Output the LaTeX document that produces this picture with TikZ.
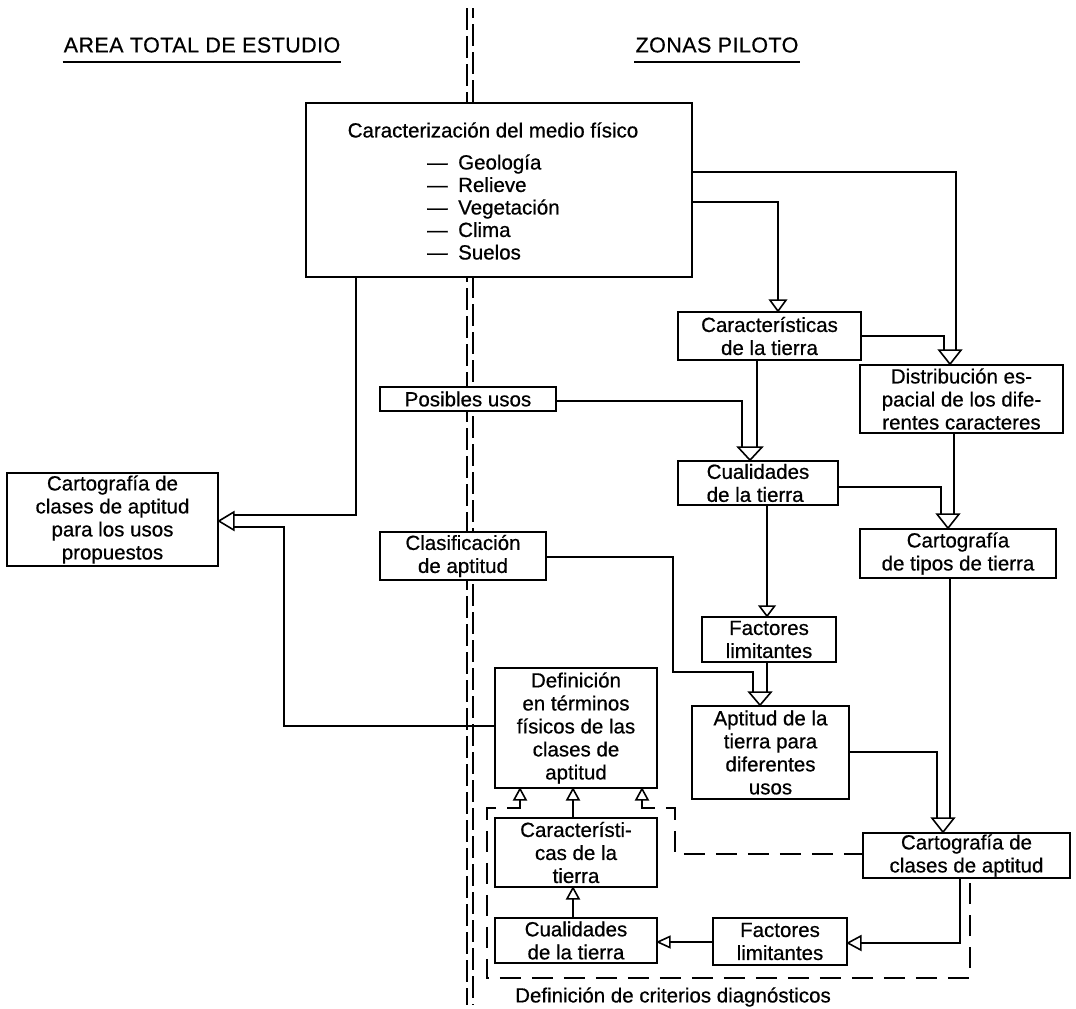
\documentclass[tikz,border=0pt]{standalone}
\usepackage{fontspec}
\setmainfont[FakeBold=0.6]{Liberation Sans}
\usetikzlibrary{calc}
\tikzset{
  box/.style={draw, line width=1.7pt, fill=white, inner sep=0pt, align=center,
    font=\fontsize{20.5}{23}\selectfont},
  conn/.style={line width=1.6pt},
  headst/.style={line width=1.6pt, fill=white, line join=miter},
  dsh/.style={line width=1.7pt, dash pattern=on 21pt off 11pt},
  sepline/.style={line width=2.3pt, dash pattern=on 22pt off 6pt},
  txt/.style={inner sep=0pt, font=\fontsize{20.5}{23}\selectfont},
  ttl/.style={inner sep=0pt, font=\fontsize{21.5}{24}\selectfont},
}
\newcommand\hdn[3]{\draw[headst] (#1) -- ++(-#2,-#3) -- ++(#2*2,0) -- cycle;}
\newcommand\hup[3]{\draw[headst] (#1) -- ++(-#2,#3) -- ++(#2*2,0) -- cycle;}
\newcommand\hlt[3]{\draw[headst] (#1) -- ++(#3,-#2) -- ++(0,#2*2) -- cycle;}
\begin{document}
\begin{tikzpicture}[x=1pt,y=-1pt]
\useasboundingbox (0,0) rectangle (1076,1009);
% separator between the two areas
\coordinate (sepTa) at (467,8);
\coordinate (sepBa) at (467,1005);
\coordinate (sepTb) at (473,8);
\coordinate (sepBb) at (473,1005);
\draw[sepline] (sepTa) -- (sepBa);
\draw[sepline, dash phase=12pt] (sepTb) -- (sepBb);

% titles
\node[ttl] (tA) at (202,45) {\addfontfeature{LetterSpace=2}AREA TOTAL DE ESTUDIO};
\node[ttl] (tZ) at (717,45) {\addfontfeature{LetterSpace=2}ZONAS PILOTO};
\draw[line width=1.7pt] ([xshift=-1pt]tA.west |- 0,62) -- ([xshift=1pt]tA.east |- 0,62);
\draw[line width=1.7pt] ([xshift=-1pt]tZ.west |- 0,62) -- ([xshift=1pt]tZ.east |- 0,62);

% boxes
\node[box, minimum width=386pt, minimum height=174pt] (b1) at (499,190) {};
\node[txt] (b1t) at (493,130) {Caracterización del medio físico};
\node[txt, anchor=west, align=left, font=\fontsize{20.5}{22.5}\selectfont] (b1l) at (427,207)
  {\makebox[31pt][l]{—}Geología\\\makebox[31pt][l]{—}Relieve\\\makebox[31pt][l]{—}Vegetación\\\makebox[31pt][l]{—}Clima\\\makebox[31pt][l]{—}Suelos};

\node[box, minimum width=183pt, minimum height=48pt] (caract) at (769.5,336) {Características\\de la tierra};
\node[box, minimum width=203pt, minimum height=68pt] (distr) at (961.5,399) {Distribución es-\\pacial de los dife-\\rentes caracteres};
\node[box, minimum width=176pt, minimum height=24pt] (posib) at (468,399) {Posibles usos};
\node[box, minimum width=160pt, minimum height=44pt, align=left] (cualid) at (758,483) {Cualidades\\de la tierra};
\node[box, minimum width=196pt, minimum height=49pt] (tipos) at (958,553.5) {Cartografía\\de tipos de tierra};
\node[box, minimum width=166pt, minimum height=48pt] (clasif) at (463,556) {Clasificación\\de aptitud};
\node[box, minimum width=134pt, minimum height=45pt] (factor) at (769,639.5) {Factores\\limitantes};
\node[box, minimum width=157pt, minimum height=93pt] (aptit) at (770.5,752.5) {Aptitud de la\\tierra para\\diferentes\\usos};
\node[box, minimum width=207pt, minimum height=45pt] (carto) at (966.5,855.5) {Cartografía de\\clases de aptitud};
\node[box, minimum width=211pt, minimum height=93pt] (cprop) at (112.5,519.5) {Cartografía de\\clases de aptitud\\para los usos\\propuestos};
\node[box, minimum width=162pt, minimum height=120pt] (defin) at (576,728) {Definición\\en términos\\físicos de las\\clases de\\aptitud};
\node[box, minimum width=162pt, minimum height=69pt] (caract2) at (576,852.5) {Característi-\\cas de la\\tierra};
\node[box, minimum width=162pt, minimum height=45pt] (cualid2) at (576,940.5) {Cualidades\\de la tierra};
\node[box, minimum width=134pt, minimum height=47pt] (factor2) at (780,941.5) {Factores\\limitantes};
\node[txt, anchor=west] (crit) at (515,997) {Definición de criterios diagnósticos};

% arrow-head tips
\coordinate (tDis) at (distr.north -| 950,0);
\coordinate (tCar) at (caract.north -| 778,0);
\coordinate (tCua) at (cualid.north -| 750,0);
\coordinate (tTip) at (tipos.north -| 948,0);
\coordinate (tFac) at (factor.north -| 767,0);
\coordinate (tApt) at (aptit.north -| 760,0);
\coordinate (tCto) at (carto.north -| 943,0);
\coordinate (tF2) at (factor2.east |- 0,943);
\coordinate (tQ2) at (cualid2.east |- 0,942);
\coordinate (tC2) at (caract2.south -| 573,0);
\coordinate (tDa) at (defin.south -| 520,0);
\coordinate (tDb) at (defin.south -| 573,0);
\coordinate (tDc) at (defin.south -| 642,0);
\coordinate (tCp) at (cprop.east |- 0,521);

% connectors
\draw[conn] (b1.east |- 0,172) -| ($(tDis)+(6,-14)$);
\draw[conn] (caract.east |- 0,336) -| ($(tDis)+(-6,-14)$);
\draw[conn] (b1.east |- 0,202) -| ($(tCar)+(0,-11)$);
\draw[conn] (posib.east |- 0,401) -| ($(tCua)+(-8,-13)$);
\draw[conn] (caract.south -| 757,0) -- ($(tCua)+(7,-13)$);
\draw[conn] (cualid.east |- 0,487) -| ($(tTip)+(-7,-14)$);
\draw[conn] (distr.south -| 954,0) -- ($(tTip)+(6,-14)$);
\draw[conn] (cualid.south -| 767,0) -- ($(tFac)+(0,-10)$);
\draw[conn] (clasif.east |- 0,557) -- (673,557) -- (673,672) -- (753,672) -- ($(tApt)+(-7,-13)$);
\draw[conn] (factor.south -| 767,0) -- ($(tApt)+(7,-13)$);
\draw[conn] (aptit.east |- 0,752) -| ($(tCto)+(-6,-14)$);
\draw[conn] (tipos.south -| 950,0) -- ($(tCto)+(7,-14)$);
\draw[conn] (carto.south -| 960,0) |- ($(tF2)+(13,0)$);
\draw[conn] (factor2.west |- tQ2) -- ($(tQ2)+(12,0)$);
\draw[conn] (cualid2.north -| 573,0) -- ($(tC2)+(0,11)$);
\draw[conn] (caract2.north -| 573,0) -- ($(tDb)+(0,11)$);
\draw[conn] (b1.south -| 356,0) |- ($(tCp)+(15,-6)$);
\draw[conn] (defin.west |- 0,726) -| (284,527) -- ($(tCp)+(15,6)$);
% dashed group
\draw[dsh] ($(tDa)+(0,11)$) |- (487,808) -- (487,978) -- (970,978) -- (carto.south -| 970,0);
\draw[dsh] ($(tDc)+(0,11)$) |- (675,808) -- (675,854) -- (carto.west |- 0,854);

% arrow heads
\hdn{tDis}{11}{14}
\hdn{tCar}{8}{11}
\hdn{tCua}{12}{13}
\hdn{tTip}{11}{14}
\hdn{tFac}{7.5}{10}
\hdn{tApt}{11}{13}
\hdn{tCto}{11}{14}
\hlt{tF2}{7}{13}
\hlt{tQ2}{5.5}{12}
\hup{tC2}{6}{11}
\hup{tDa}{6}{11}
\hup{tDb}{6}{11}
\hup{tDc}{6}{11}
\hlt{tCp}{9}{15}
\end{tikzpicture}
\end{document}
